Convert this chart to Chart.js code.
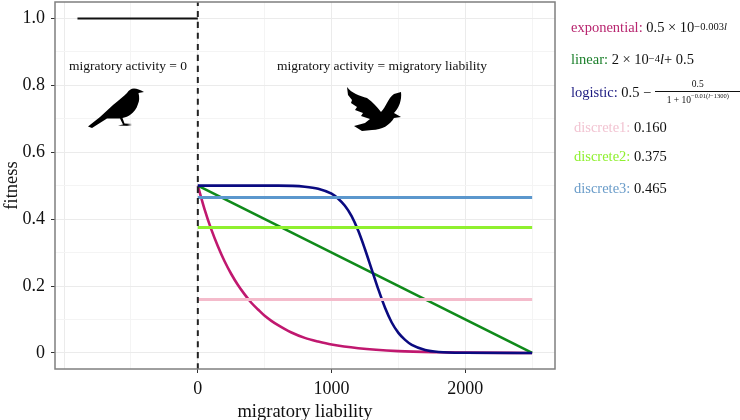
<!DOCTYPE html>
<html>
<head>
<meta charset="utf-8">
<script src="https://cdn.jsdelivr.net/npm/chart.js@4"></script>
<style>
    html, body { margin: 0; padding: 0; background: #fff; }
    #wrap { position: relative; width: 740px; height: 420px; overflow: hidden; font-family: "Liberation Serif", serif; color: #111; }
    canvas { position: absolute; left: 0; top: 0; }
    .note { position: absolute; font-size: 13.5px; white-space: nowrap; transform: translate(-50%, -50%); }
    .eq { position: absolute; left: 571px; font-size: 14.5px; white-space: nowrap; transform: translateY(-50%); display: flex; align-items: center; }
    .eq sup { font-size: 10.5px; line-height: 0; position: relative; top: -1px; vertical-align: super; }
    .frac { display: inline-flex; flex-direction: column; align-items: center; margin-left: 4px; font-size: 9.5px; width: 85px; }
    .frac .top { border-bottom: 1px solid #111; width: 100%; text-align: center; padding-bottom: 2px; }
    .frac .bottom { padding-top: 3px; }
    .frac sup { font-size: 6.5px; }
    svg { position: absolute; left: 0; top: 0; }
</style>
</head>
<body>
<div id="wrap">
    <canvas id="displayGraph" width="740" height="420"></canvas>
    <svg width="740" height="420">
        <path fill="#000" d="M88 126.5 L100 117 L113 105 C119 100 124 96 127 93 C129 90 131 88.5 134 88.5 C137 88.5 140 90 144 92 L138.5 93 C139.5 97 139.5 101 138 104 C136.5 109 134 112 130 115 C127 117 125 117.5 122.5 118 L124.5 123.5 L132 124 L127 125 L132 126 L118 125.5 L123 124.5 L120 118.5 L107 118.5 L92 128 Z"/>
        <path fill="#000" d="M347 87 C351 93 360 96 367 98 C373 102 377 107 381 112 C386 107 388 98 394 94 L401 92 C402 100 399 108 394 113 L401 117 L394 118 C390 125 382 130 372 130 L362 131 L354 126 L365 123 L370 119 L361 116 L363 113 L355 110 L357 107 L351 103 L352 100 L348 95 Z"/>
    </svg>
    <div class="note" style="left:128px;top:66px">migratory activity = 0</div>
    <div class="note" style="left:382px;top:66px">migratory activity = migratory liability</div>
    <div class="eq" style="top:27px"><span style="color:#b8256f">exponential:</span>&nbsp;0.5 × 10<sup>−0.003<i>l</i></sup></div>
    <div class="eq" style="top:59px"><span style="color:#1a7f2a">linear:</span>&nbsp;2 × 10<sup>−4</sup><i>l</i> + 0.5</div>
    <div class="eq" style="top:92px"><span style="color:#1c1a80">logistic:</span>&nbsp;0.5 −<span class="frac"><span class="top">0.5</span><span class="bottom">1 + 10<sup>−0.01(<i>l</i>−1300)</sup></span></span></div>
    <div class="eq" style="top:127px;left:574px"><span style="color:#f2c4d2">discrete1:</span>&nbsp;0.160</div>
    <div class="eq" style="top:156px;left:574px"><span style="color:#8ff02f">discrete2:</span>&nbsp;0.375</div>
    <div class="eq" style="top:188px;left:574px"><span style="color:#6a9cc9">discrete3:</span>&nbsp;0.465</div>
</div>
<script>
const expX = [0, 50, 100, 150, 200, 250, 300, 350, 400, 450, 500, 550, 600, 700, 800, 900, 1000, 1200, 1500, 1800, 2000, 2500];
const expY = [0.5, 0.43, 0.37, 0.319, 0.274, 0.236, 0.203, 0.175, 0.15, 0.13, 0.111, 0.096, 0.083, 0.061, 0.045, 0.034, 0.025, 0.014, 0.0055, 0.002, 0.001, 0];
const linX = [0, 2500];
const linY = [0.5, 0];
const logX = [0, 600, 800, 900, 1000, 1050, 1100, 1150, 1200, 1250, 1300, 1350, 1400, 1450, 1500, 1550, 1600, 1700, 1800, 2000, 2500];
const logY = [0.5, 0.5, 0.497, 0.491, 0.476, 0.461, 0.44, 0.409, 0.365, 0.31, 0.25, 0.19, 0.135, 0.091, 0.06, 0.039, 0.024, 0.009, 0.003, 0.0005, 0];
const discreteX = [0, 2500];
const discrete1 = [0.16, 0.16];
const discrete2 = [0.375, 0.375];
const discrete3 = [0.465, 0.465];
const inactiveX = [-900, 0];
const inactiveY = [1, 1];
const boundaryX = [0, 0];
const boundaryY = [-0.048, 1.049];
const xLabels = [0, 1000, 2000];
const xGrid = [-1000, -500, 0, 500, 1000, 1500, 2000, 2500];
const yLabels = [0, 0.2, 0.4, 0.6, 0.8, 1];
const yGrid = [0, 0.1, 0.2, 0.3, 0.4, 0.5, 0.6, 0.7, 0.8, 0.9, 1];

const font = { family: "'Liberation Serif', serif", size: 18 };

function zip(xs, ys) {
    return xs.map((x, i) => ({ x: x, y: ys[i] }));
}

function line(xs, ys, color, width, extra) {
    return Object.assign({
        data: zip(xs, ys),
        borderColor: color,
        borderWidth: width,
        pointRadius: 0,
        cubicInterpolationMode: "monotone"
    }, extra || {});
}

const frame = {
    id: "frame",
    afterDraw(chart) {
        const a = chart.chartArea;
        const ctx = chart.ctx;
        ctx.save();
        ctx.strokeStyle = "#7f7f7f";
        ctx.lineWidth = 1.5;
        ctx.strokeRect(a.left, a.top, a.right - a.left, a.bottom - a.top);
        ctx.restore();
    }
};

// first dataset ends up on top in chart.js
new Chart("displayGraph", {
    type: "line",
    data: {
        datasets: [
            line(boundaryX, boundaryY, "#222222", 2, { borderDash: [6, 5] }),
            line(inactiveX, inactiveY, "#111111", 2),
            line(discreteX, discrete3, "#5b97cd", 3),
            line(discreteX, discrete2, "#8ff02f", 3),
            line(discreteX, discrete1, "#f4bbcb", 3),
            line(logX, logY, "#0a0a80", 2.6),
            line(linX, linY, "#0f8a1a", 2.6),
            line(expX, expY, "#c0186f", 2.6)
        ]
    },
    plugins: [frame],
    options: {
        responsive: false,
        animation: false,
        layout: { autoPadding: false, padding: { top: 2, right: 185, bottom: 0, left: 0 } },
        plugins: { legend: { display: false }, tooltip: { enabled: false } },
        scales: {
            x: {
                type: "linear",
                min: -1068,
                max: 2671,
                afterFit(s) { s.height = 51; s.paddingLeft = 0; s.paddingRight = 0; },
                afterBuildTicks(s) { s.ticks = xGrid.map(v => ({ value: v })); },
                border: { display: false },
                grid: {
                    color: c => c.tick.value % 1000 === 0 ? "#ebebeb" : "#f4f4f4",
                    tickColor: c => xLabels.includes(c.tick.value) ? "#333333" : "rgba(0,0,0,0)",
                    tickLength: 4
                },
                ticks: {
                    autoSkip: false,
                    maxRotation: 0,
                    padding: 5,
                    color: "#111",
                    font: font,
                    callback: v => xLabels.includes(v) ? String(v) : ""
                },
                title: { display: true, text: "migratory liability", color: "#111", font: { family: font.family, size: 18.5 }, padding: { top: 2, bottom: -3 } }
            },
            y: {
                type: "linear",
                min: -0.048,
                max: 1.049,
                afterFit(s) { s.width = 55; s.paddingTop = 0; s.paddingBottom = 0; },
                afterBuildTicks(s) { s.ticks = yGrid.map(v => ({ value: v })); },
                border: { display: false },
                grid: {
                    color: c => yLabels.includes(c.tick.value) ? "#ebebeb" : "#f4f4f4",
                    tickColor: c => yLabels.includes(c.tick.value) ? "#333333" : "rgba(0,0,0,0)",
                    tickLength: 4
                },
                ticks: {
                    autoSkip: false,
                    padding: 6,
                    color: "#111",
                    font: font,
                    callback: v => {
                        if (!yLabels.includes(v)) return "";
                        return v === 0 ? "0" : v.toFixed(1);
                    }
                },
                title: { display: true, text: "fitness", color: "#111", font: { family: font.family, size: 18.5 }, padding: { top: 1, bottom: 0 } }
            }
        }
    }
});
</script>
</body>
</html>
